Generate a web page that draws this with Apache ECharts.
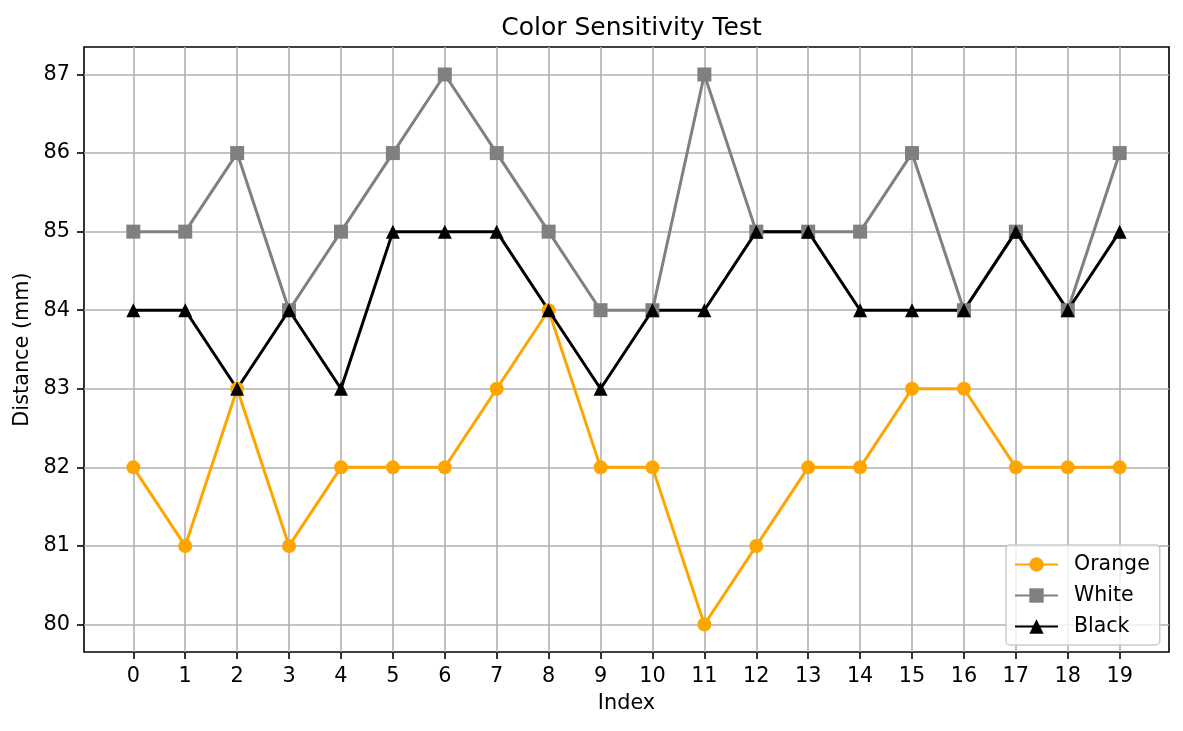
<!DOCTYPE html>
<html>
<head>
<meta charset="utf-8">
<script src="https://cdn.jsdelivr.net/npm/echarts@6/dist/echarts.min.js"></script>
<style>html,body{margin:0;padding:0;background:#fff;}#c{width:1183px;height:731px;}</style>
</head>
<body>
<div id="c"></div>
<script>
const indices = [0,1,2,3,4,5,6,7,8,9,10,11,12,13,14,15,16,17,18,19];
const orange = [82,81,83,81,82,82,82,83,84,82,82,80,81,82,82,83,83,82,82,82];
const white  = [85,85,86,84,85,86,87,86,85,84,84,87,85,85,85,86,84,85,84,86];
const black  = [84,84,83,84,83,85,85,85,84,83,84,84,85,85,84,84,84,85,84,85];
const yTicks = [80,81,82,83,84,85,86,87];
const seriesNames = ['Orange','White','Black'];

const FONT = 'DejaVu Sans';
const pairs = arr => indices.map((x, i) => [x, arr[i]]);

function mkSeries(name, data, color, symbol, size) {
  return {
    name: name, type: 'line', data: pairs(data),
    symbol: symbol, symbolSize: size, showSymbol: true,
    lineStyle: { color: color, width: 3 },
    itemStyle: { color: color },
    emphasis: { disabled: true },
    animation: false
  };
}

const chart = echarts.init(document.getElementById('c'), null, { renderer: 'canvas' });
chart.setOption({
  animation: false,
  backgroundColor: '#fff',
  title: {
    text: 'Color Sensitivity Test',
    left: 626.5, textAlign: 'center', top: 11,
    textStyle: { fontFamily: FONT, fontSize: 25, fontWeight: 'normal', color: '#000' }
  },
  grid: {
    left: 84, right: 14, top: 47, bottom: 79,
    show: true, borderColor: '#000', borderWidth: 1.6, backgroundColor: 'transparent'
  },
  legend: {
    orient: 'vertical', left: 1006, top: 545,
    data: seriesNames,
    itemWidth: 43, itemHeight: 18, itemGap: 10,
    padding: [9, 10, 8, 8],
    backgroundColor: 'rgba(255,255,255,0.8)',
    borderColor: '#cccccc', borderWidth: 1.5, borderRadius: 4,
    textStyle: { fontFamily: FONT, fontSize: 20.5, color: '#000', padding: [0, 0, 0, 11] }
  },
  xAxis: {
    type: 'value', min: -0.95, max: 19.95,
    name: 'Index', nameLocation: 'middle', nameGap: 41,
    nameTextStyle: { fontFamily: FONT, fontSize: 20.8, color: '#000' },
    axisLine: { show: false, onZero: false },
    axisTick: { show: true, length: 7, customValues: indices, lineStyle: { color: '#000', width: 1.6 } },
    axisLabel: { customValues: indices, margin: 14, fontFamily: FONT, fontSize: 20.8, color: '#000' },
    splitLine: { show: true, lineStyle: { color: '#b0b0b0', width: 1.6 } }
  },
  yAxis: {
    type: 'value', min: 79.65, max: 87.35,
    name: 'Distance (mm)', nameLocation: 'middle', nameGap: 50, nameRotate: 90,
    nameTextStyle: { fontFamily: FONT, fontSize: 20.8, color: '#000' },
    axisLine: { show: false, onZero: false },
    axisTick: { show: true, length: 7, customValues: yTicks, lineStyle: { color: '#000', width: 1.6 } },
    axisLabel: { customValues: yTicks, margin: 14, fontFamily: FONT, fontSize: 20.8, color: '#000' },
    splitLine: { show: true, lineStyle: { color: '#b0b0b0', width: 1.6 } }
  },
  series: [
    mkSeries('Orange', orange, '#FFA500', 'circle', 14),
    mkSeries('White', white, '#808080', 'rect', 14),
    mkSeries('Black', black, '#000000', 'triangle', 14)
  ]
});
</script>
</body>
</html>
